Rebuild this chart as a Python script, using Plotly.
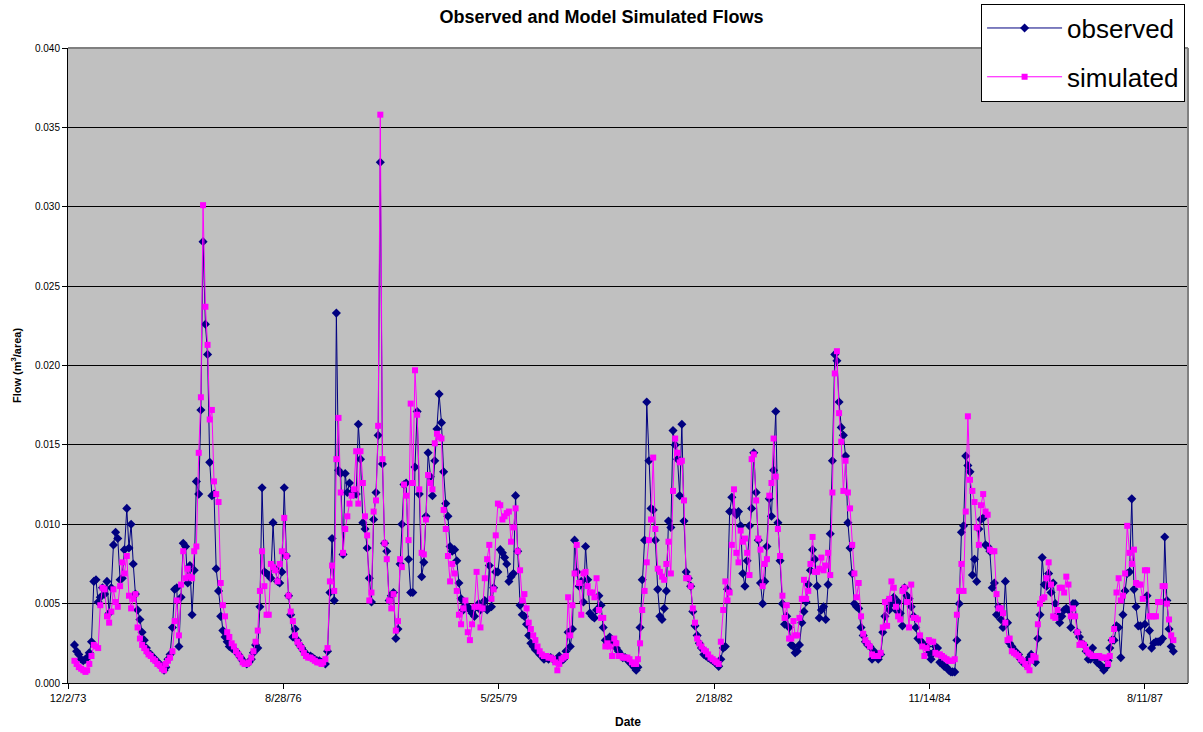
import pandas as pd
import plotly.graph_objects as go

# Flow values in thousandths (x 0.001 m3/area), one value per dekad (1st, 11th, 21st of each month)
obs_1974 = [2.4,2.0,1.8,1.5,1.4,1.5,1.6,1.9,2.6,6.4,6.5,5.1,5.4,6.0,5.6,6.4,4.4,6.0,8.7,9.5,9.1,6.5,6.6,8.4,11.0,8.5,10.0,7.5,5.6,4.6,4.0,3.2,2.7,2.2,1.9,1.8]
sim_1974 = [1.4,1.2,1.0,0.9,0.8,0.7,0.8,1.2,1.7,2.4,2.3,2.2,4.9,6.0,5.9,4.2,3.8,4.5,5.9,5.1,4.8,6.1,7.6,6.9,8.0,5.5,4.7,5.3,5.6,3.5,2.8,2.4,2.2,2.0,1.8,1.7]
obs_1975 = [1.6,1.5,1.3,1.2,1.0,0.8,1.0,1.5,1.8,3.5,5.9,6.0,2.3,5.4,8.8,8.6,6.3,7.4,4.3,7.1,12.7,11.9,17.2,27.8,22.6,20.7,13.9,11.8,11.9,7.2,5.8,4.2,3.3,2.9,2.6,2.3]
sim_1975 = [1.5,1.4,1.2,1.1,0.9,0.8,1.2,1.4,1.6,2.0,3.9,5.2,3.0,6.2,8.3,6.6,7.2,6.7,6.6,8.3,8.6,14.5,18.0,30.1,23.7,21.3,16.6,17.2,12.7,11.9,11.4,6.3,4.9,4.2,3.2,2.9]
obs_1976 = [2.2,2.1,2.0,1.8,1.6,1.4,1.3,1.2,1.3,1.5,1.9,2.4,2.2,4.8,12.3,7.0,6.9,6.8,6.6,10.1,7.2,6.4,6.3,7.0,12.3,8.0,5.5,4.3,2.9,3.4,2.7,2.4,2.2,2.0,1.8,1.7]
sim_1976 = [2.5,2.3,2.0,1.8,1.6,1.3,1.2,1.2,1.3,1.6,2.0,2.6,3.3,5.8,8.3,6.1,4.3,4.3,7.5,7.3,7.1,6.4,7.5,8.3,10.4,8.0,5.5,4.5,3.9,3.0,2.6,2.4,2.2,1.9,1.7,1.6]
obs_1977 = [1.7,1.6,1.5,1.4,1.4,1.3,1.3,1.2,2.0,5.7,9.1,5.2,23.3,13.4,13.2,8.1,13.2,12.0,12.6,12.0,11.9,11.9,16.3,14.1,10.1,9.7,8.5,6.6,5.1,10.3,12.0,15.6,32.8,13.8,8.8,8.3]
sim_1977 = [1.6,1.5,1.4,1.3,1.3,1.2,1.3,1.5,2.2,6.4,7.4,5.8,14.1,16.7,12.0,8.2,9.7,10.5,11.3,11.8,12.2,14.6,11.3,14.6,12.6,10.5,9.3,5.2,5.7,10.8,11.5,16.2,35.8,14.1,8.8,7.8]
obs_1978 = [5.2,5.5,5.7,2.8,3.4,7.5,10.0,12.5,12.6,7.8,5.7,5.7,13.6,17.1,11.9,6.7,7.6,10.5,14.5,13.0,11.8,14.0,16.0,18.2,16.4,13.3,11.3,10.5,8.6,8.3,8.4,7.7,6.3,5.3,4.6,4.9]
sim_1978 = [5.2,4.7,5.6,3.3,3.9,7.8,7.3,12.5,11.8,9.0,17.6,12.6,19.7,16.9,12.2,8.2,8.1,10.3,13.1,12.6,12.2,15.1,15.7,15.5,15.4,10.9,9.7,8.0,6.4,7.5,6.9,5.8,4.3,3.7,4.7,5.2]
obs_1979 = [4.8,4.6,4.4,4.2,4.8,5.0,4.6,4.8,5.2,4.6,7.4,4.8,6.0,7.0,7.0,8.4,8.2,7.9,7.5,6.4,6.7,6.9,11.8,8.3,4.9,4.3,4.2,3.7,3.0,2.5,2.3,2.1,2.0,1.8,1.7,1.5]
sim_1979 = [3.2,2.7,3.7,4.8,7.0,4.8,3.5,4.7,6.6,7.8,8.7,5.3,5.9,9.3,11.3,11.2,10.3,10.5,10.7,10.8,8.9,9.8,11.0,8.3,7.1,5.2,5.6,4.7,3.8,3.4,3.0,2.7,2.3,2.0,1.8,1.7]
obs_1980 = [1.6,1.5,1.6,1.5,1.4,1.5,1.7,1.4,1.5,2.0,3.2,2.3,3.4,9.0,7.0,6.1,6.4,5.1,8.6,6.5,4.4,4.2,4.1,4.6,5.5,4.9,3.5,2.7,2.5,2.9,2.7,2.6,2.2,2.0,1.8,1.6]
sim_1980 = [1.7,1.6,1.6,1.5,1.3,0.8,1.2,1.5,1.6,1.7,5.4,3.0,4.9,6.9,8.7,6.3,4.3,6.9,7.0,6.1,5.7,5.7,5.4,6.6,4.6,4.1,4.1,2.3,2.5,2.3,1.7,2.8,2.5,1.7,1.7,1.6]
obs_1981 = [1.6,1.5,1.3,1.2,1.0,0.8,1.0,3.5,6.5,9.0,17.7,14.0,11.0,10.9,9.0,5.9,4.2,4.0,4.7,5.8,10.2,9.8,15.9,15.0,14.1,11.8,16.3,10.2,7.0,6.6,6.1,4.5,3.6,3.0,2.5,2.2]
sim_1981 = [1.6,1.6,1.5,1.3,1.2,1.2,1.5,2.5,4.6,5.8,7.6,9.0,10.3,14.2,9.7,7.2,7.0,6.7,6.5,7.5,8.9,6.9,12.1,15.4,14.5,13.9,14.0,11.5,6.6,6.6,6.1,4.7,3.8,2.8,2.5,2.3]
obs_1982 = [1.8,1.7,1.6,1.5,1.4,1.3,1.2,1.05,1.5,2.2,2.3,5.9,10.8,11.7,10.8,10.6,10.8,9.9,6.9,6.1,7.7,9.9,11.0,14.5,12.0,9.0,6.3,5.0,6.4,8.6,11.6,10.5,13.4,17.1,10.1,7.7]
sim_1982 = [2.1,2.0,1.8,1.6,1.5,1.4,1.3,1.2,2.6,4.6,6.4,5.2,5.7,8.7,12.2,8.2,7.6,9.6,8.9,9.1,8.2,6.8,14.1,14.4,11.5,9.1,8.4,6.1,7.5,7.8,11.8,12.6,15.4,13.0,9.7,8.0]
obs_1983 = [5.0,3.7,4.2,3.5,2.4,2.3,1.9,2.0,2.4,3.8,4.5,5.1,6.2,7.1,8.4,7.8,6.1,4.1,4.6,4.8,4.0,6.2,9.4,14.0,20.7,20.3,17.7,16.1,15.6,14.3,10.1,8.5,6.9,5.0,4.8,4.7]
sim_1983 = [5.5,4.1,4.9,2.8,2.8,3.9,3.0,3.0,4.1,5.3,6.5,5.3,5.8,7.5,9.2,7.0,7.0,7.2,7.9,7.1,7.4,8.2,6.8,12.0,19.5,20.9,17.0,15.2,12.1,14.0,12.0,11.0,8.7,6.9,5.4,6.3]
obs_1984 = [3.5,3.0,2.6,2.4,2.3,1.5,2.0,1.8,1.5,1.8,3.2,4.2,5.1,4.6,5.0,5.4,4.6,5.1,4.4,3.6,6.0,5.5,5.3,4.8,4.2,3.5,2.8,2.7,2.5,2.4,2.3,1.9,1.5,1.9,2.3,2.2]
sim_1984 = [4.2,3.1,2.7,2.5,2.3,1.8,1.7,1.7,1.7,1.9,3.5,5.1,3.6,5.3,6.4,6.0,4.8,4.2,4.0,5.8,6.0,5.1,3.5,6.2,4.1,4.1,4.0,3.0,2.3,1.7,2.2,2.7,2.6,2.6,1.9,1.8]
obs_1985 = [1.3,1.2,1.05,1.0,0.8,0.7,0.7,0.7,2.7,5.0,9.5,9.9,14.3,13.7,13.3,6.8,7.8,6.4,9.7,10.3,10.4,8.7,8.6,8.3,6.0,6.3,4.3,4.8,4.0,3.5,6.4,3.8,2.5,2.3,2.1,1.9]
sim_1985 = [1.8,1.7,1.6,1.5,1.4,1.4,1.4,1.5,4.3,5.8,7.5,5.8,10.8,16.8,12.8,12.1,11.4,9.8,8.7,11.2,11.9,10.8,10.6,8.4,8.3,8.3,5.6,4.7,4.7,4.4,3.8,2.7,2.8,2.0,1.9,1.8]
obs_1986 = [1.8,1.5,1.3,1.2,1.4,1.6,1.8,1.6,1.3,2.8,4.3,7.9,6.2,6.1,6.9,5.7,6.3,5.0,4.3,3.8,4.2,4.6,4.7,4.6,3.5,5.0,5.0,3.2,2.9,2.5,2.4,2.0,1.5,1.5,2.2,1.6]
sim_1986 = [1.7,1.5,1.4,1.2,1.0,0.8,1.4,1.7,1.6,3.7,5.0,5.3,5.4,6.6,7.6,6.2,4.2,4.1,4.6,6.0,6.0,5.7,6.7,6.2,4.2,4.7,4.2,3.2,2.4,2.5,2.4,2.1,1.9,1.8,1.7,1.7]
obs_1987 = [1.3,1.2,1.05,0.8,1.0,1.4,2.2,2.7,2.7,3.6,3.5,1.6,4.3,5.8,6.9,7.0,11.6,5.9,4.8,3.6,3.6,2.3,3.7,5.5,3.3,2.2,2.5,2.6,2.6,2.6,2.8,9.2,5.2,3.4,2.3,2.0]
sim_1987 = [1.7,1.7,1.6,1.6,1.6,1.2,1.7,2.7,3.4,5.7,6.6,5.2,5.5,6.9,9.9,8.2,7.5,8.4,6.3,6.2,6.2,5.3,7.1,7.1,4.2,4.2,4.2,4.2,5.1,5.1,6.1,6.1,5.0,4.0,3.0,2.7]

years = list(range(1974, 1988))
x_tick_labels = ["12/2/73", "8/28/76", "5/25/79", "2/18/82", "11/14/84", "8/11/87"]
y_tick_values = [0.000, 0.005, 0.010, 0.015, 0.020, 0.025, 0.030, 0.035, 0.040]

obs_all = (obs_1974 + obs_1975 + obs_1976 + obs_1977 + obs_1978 + obs_1979 + obs_1980 +
           obs_1981 + obs_1982 + obs_1983 + obs_1984 + obs_1985 + obs_1986 + obs_1987)
sim_all = (sim_1974 + sim_1975 + sim_1976 + sim_1977 + sim_1978 + sim_1979 + sim_1980 +
           sim_1981 + sim_1982 + sim_1983 + sim_1984 + sim_1985 + sim_1986 + sim_1987)

dates = [pd.Timestamp(year=y, month=m, day=d) for y in years for m in range(1, 13) for d in (1, 11, 21)]
observed = [v * 0.001 for v in obs_all]
simulated = [v * 0.001 for v in sim_all]

start = pd.Timestamp("1973-12-02")
tickvals = [start + pd.Timedelta(days=1000 * k) for k in range(len(x_tick_labels))]
x_end = start + pd.Timedelta(days=5200)

FONT = "Arial, Liberation Sans, sans-serif"

fig = go.Figure()
fig.add_trace(go.Scatter(
    x=dates, y=observed, name="observed", mode="lines+markers", legendgroup="o",
    line=dict(color="#000080", width=1),
    marker=dict(symbol="diamond", size=7, color="#000080"),
))
fig.add_trace(go.Scatter(
    x=dates, y=simulated, name="simulated", mode="lines+markers", legendgroup="s",
    line=dict(color="#FF00FF", width=1),
    marker=dict(symbol="square", size=6, color="#FF00FF"),
))

fig.update_layout(
    width=1203, height=732,
    margin=dict(l=67.5, r=15, t=47.5, b=48.5, autoexpand=False),
    paper_bgcolor="white",
    plot_bgcolor="#C0C0C0",
    font=dict(family=FONT, color="black"),
    title=dict(text="<b>Observed and Model Simulated Flows</b>", x=0.5, xref="container",
               y=1 - 17 / 732, yref="container", yanchor="middle",
               font=dict(family=FONT, size=18, color="black")),
    xaxis=dict(type="date", range=[start, x_end], tickvals=tickvals, ticktext=x_tick_labels,
               ticks="outside", ticklen=5, tickcolor="black", showgrid=False, zeroline=False,
               showline=True, linecolor="black", linewidth=1, automargin=False,
               tickfont=dict(family=FONT, size=11, color="black"),
               title=dict(text="<b>Date</b>", font=dict(family=FONT, size=12, color="black"), standoff=14)),
    yaxis=dict(range=[0, 0.04], tickvals=y_tick_values, tickformat=".3f",
               ticks="outside", ticklen=5, tickcolor="black",
               showgrid=True, gridcolor="black", gridwidth=1, zeroline=False,
               showline=True, linecolor="black", linewidth=1, automargin=False,
               tickfont=dict(family=FONT, size=10, color="black"),
               title=dict(text="<b>Flow (m<sup>3</sup>/area)</b>", font=dict(family=FONT, size=11, color="black"), standoff=11)),
    legend=dict(x=(981 - 67.5) / 1120.5, y=(683.5 - 3) / 636, xanchor="left", yanchor="top",
                bgcolor="white", bordercolor="black", borderwidth=1,
                font=dict(family=FONT, size=26, color="black"), tracegroupgap=12, itemwidth=75),
    showlegend=True,
    shapes=[
        dict(type="line", xref="paper", yref="paper", x0=0, x1=1, y0=1, y1=1, line=dict(color="#808080", width=2)),
        dict(type="line", xref="paper", yref="paper", x0=1, x1=1, y0=0, y1=1, line=dict(color="#808080", width=2)),
    ],
)

fig.write_html("out.html", config={"displayModeBar": False},
               post_script="document.body.style.margin='0';document.body.style.overflow='hidden';")
